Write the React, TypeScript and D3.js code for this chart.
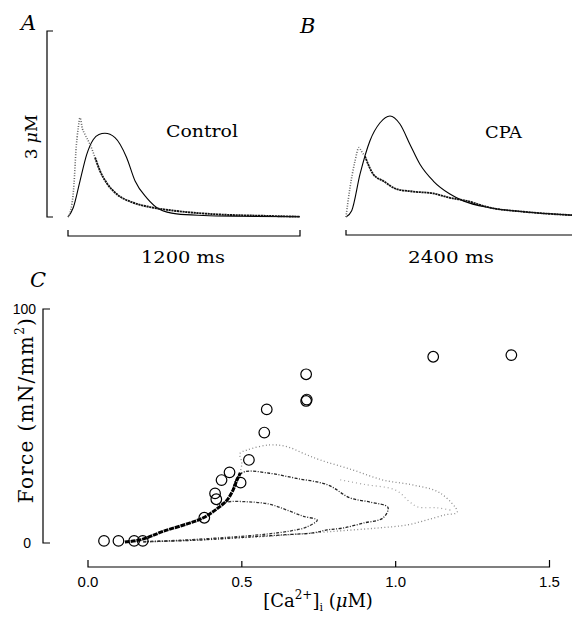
import React from "react";
import * as d3 from "d3";

// ---------- Panel A (Control) : time (ms) vs [Ca2+] (uM) / relative force ----------
const caA_t = [0, 10, 31, 41, 53, 62, 75, 88, 114, 140, 166, 200, 252, 338, 424, 562, 769, 1000, 1200];
const caA_v = [0, 0.06, 0.53, 1.06, 1.44, 1.6, 1.42, 1.33, 1.17, 0.96, 0.74, 0.55, 0.37, 0.23, 0.16, 0.097, 0.043, 0.02, 0.005];
const fA_t = [0, 27, 62, 97, 131, 160, 191, 243, 303, 347, 407, 476, 562, 700, 900, 1200];
const fA_v = [0, 0.15, 0.58, 1.01, 1.25, 1.33, 1.35, 1.28, 0.96, 0.58, 0.31, 0.12, 0.05, 0.025, 0.012, 0.005];

// ---------- Panel B (CPA) ----------
const caB_t = [0, 41, 93, 134, 160, 196, 282, 386, 524, 696, 903, 1075, 1248, 1489, 1834, 2337];
const caB_v = [0, 0.47, 0.9, 1.12, 1.06, 0.98, 0.69, 0.58, 0.45, 0.41, 0.38, 0.31, 0.26, 0.15, 0.085, 0.03];
const fB_t = [0, 59, 145, 248, 352, 455, 558, 662, 765, 903, 1075, 1213, 1489, 1834, 2337];
const fB_v = [0, 0.1, 0.69, 1.23, 1.52, 1.63, 1.5, 1.17, 0.85, 0.58, 0.37, 0.26, 0.15, 0.085, 0.03];

// ---------- Panel C : steady-state points (open circles) ----------
const ssCa = [0.052, 0.099, 0.15, 0.178, 0.378, 0.413, 0.417, 0.434, 0.46, 0.496, 0.523, 0.573, 0.581, 0.709, 0.711, 0.709, 1.122, 1.376];
const ssF = [0.9, 0.9, 0.9, 0.9, 10.8, 21.2, 18.7, 26.9, 30.2, 25.8, 35.5, 47.2, 57.1, 60.7, 61.3, 72.1, 79.6, 80.3];

// dense common rising trace
const bandCa = [0.12, 0.175, 0.245, 0.33, 0.375, 0.418, 0.451, 0.471, 0.483, 0.495];
const bandF = [0.4, 1.5, 5.0, 8.5, 10.8, 14.5, 18.2, 22.5, 26.5, 30];

// twitch loops (Ca, Force)
const innerCa = [0.18, 0.3, 0.45, 0.58, 0.66, 0.71, 0.745, 0.7, 0.646, 0.59, 0.52, 0.45, 0.42];
const innerF = [0.6, 1.2, 2.4, 3.8, 5.2, 6.8, 9.8, 11.4, 14.1, 16.6, 17.6, 17.5, 16];
const middleCa = [0.18, 0.35, 0.5, 0.65, 0.731, 0.777, 0.829, 0.894, 0.959, 0.975, 0.916, 0.851, 0.78, 0.678, 0.59, 0.51, 0.485, 0.47];
const middleF = [0.5, 1.2, 2.4, 3.6, 4.3, 5.6, 6.4, 8.5, 10.7, 15.2, 17.5, 19.3, 24.8, 27.6, 29.8, 30.5, 28, 23];
const outerCa = [0.18, 0.4, 0.6, 0.75, 0.85, 0.95, 1.036, 1.1, 1.16, 1.2, 1.144, 1.056, 0.959, 0.861, 0.754, 0.7, 0.646, 0.59, 0.516, 0.494, 0.5, 0.49];
const outerF = [0.4, 1.5, 3, 4.5, 5.5, 6.5, 7.7, 9.8, 12, 13.2, 21.4, 24.8, 26.9, 31.2, 35.5, 38.3, 41.2, 41.9, 39.7, 38.3, 34, 28];
const outer2Ca = [0.82, 0.9, 1.0, 1.046, 1.072, 1.137, 1.18];
const outer2F = [27, 25, 22.6, 17.5, 15.4, 15, 14];

const xTicks = [0, 0.5, 1.0, 1.5];
const xTickLabels = ["0.0", "0.5", "1.0", "1.5"];
const yTicks = [0, 100];
const yTickLabels = ["0", "100"];

const zip = (a: number[], b: number[]) => a.map((v, i) => [v, b[i]] as [number, number]);

export default function App() {
  const W = 572, H = 617;
  const serif = "'DejaVu Serif', serif";
  const sans = "'Liberation Sans', Arial, sans-serif";

  const yAB = d3.scaleLinear().domain([0, 3]).range([217, 31]);
  const xA = d3.scaleLinear().domain([0, 1200]).range([68, 300]);
  const xB = d3.scaleLinear().domain([0, 2400]).range([346, 578]);

  const lineA = d3.line<[number, number]>().x(d => xA(d[0])).y(d => yAB(d[1])).curve(d3.curveMonotoneX);
  const lineB = d3.line<[number, number]>().x(d => xB(d[0])).y(d => yAB(d[1])).curve(d3.curveMonotoneX);

  const xC = d3.scaleLinear().domain([0, 1.5]).range([88, 549.5]);
  const yC = d3.scaleLinear().domain([0, 100]).range([543, 309]);
  const lineC = d3.line<[number, number]>().x(d => xC(d[0])).y(d => yC(d[1])).curve(d3.curveCatmullRom.alpha(0.5));

  const caA = zip(caA_t, caA_v);
  const caB = zip(caB_t, caB_v);
  const peakIdxA = 9;
  const peakIdxB = 5;

  const axisY = 567;

  return (
    <svg width={W} height={H} style={{ position: "absolute", left: 0, top: 0, background: "#fff" }}>
      <rect x={0} y={0} width={W} height={H} fill="#fff" />
      {/* Panel letters */}
      <text x={21} y={30} fontFamily={serif} fontStyle="italic" fontSize={21}>A</text>
      <text x={300} y={33} fontFamily={serif} fontStyle="italic" fontSize={21}>B</text>
      <text x={30} y={287} fontFamily={serif} fontStyle="italic" fontSize={21}>C</text>

      {/* A: 3 uM bracket */}
      <path d={`M53,${yAB(3)}H47V${yAB(0)}H53`} fill="none" stroke="#000" strokeWidth={1.2} />
      <text transform={`translate(37,137) rotate(-90)`} textAnchor="middle" fontFamily={serif} fontSize={17}>
        3 <tspan fontStyle="italic">μ</tspan>M
      </text>

      {/* A traces */}
      <path d={lineA(zip(fA_t, fA_v)) || ""} fill="none" stroke="#000" strokeWidth={1.1} />
      <path d={lineA(caA.slice(0, peakIdxA + 1)) || ""} fill="none" stroke="#666" strokeWidth={1.6} strokeDasharray="1 1.6" />
      <path d={lineA(caA.slice(peakIdxA)) || ""} fill="none" stroke="#111" strokeWidth={1.9} strokeDasharray="2.2 0.6" />
      <text x={166} y={137} fontFamily={serif} fontSize={17} textLength={72} lengthAdjust="spacingAndGlyphs">Control</text>
      {/* A time bar */}
      <path d={`M${xA(0)},230V236H${xA(1200)}V230`} fill="none" stroke="#000" strokeWidth={1.2} />
      <text x={141} y={263} fontFamily={serif} fontSize={17} textLength={84} lengthAdjust="spacingAndGlyphs">1200 ms</text>

      {/* B traces */}
      <path d={lineB(zip(fB_t, fB_v)) || ""} fill="none" stroke="#000" strokeWidth={1.1} />
      <path d={lineB(caB.slice(0, peakIdxB + 1)) || ""} fill="none" stroke="#666" strokeWidth={1.6} strokeDasharray="1 1.6" />
      <path d={lineB(caB.slice(peakIdxB)) || ""} fill="none" stroke="#111" strokeWidth={1.8} strokeDasharray="2.2 0.6" />
      <text x={485} y={138} fontFamily={serif} fontSize={17} textLength={37} lengthAdjust="spacingAndGlyphs">CPA</text>
      <path d={`M${xB(0)},230V235H${xB(2400)}`} fill="none" stroke="#000" strokeWidth={1.2} />
      <text x={408} y={263} fontFamily={serif} fontSize={17} textLength={86} lengthAdjust="spacingAndGlyphs">2400 ms</text>

      {/* C axes */}
      <path d={`M50,${yC(100)}H43V${yC(0)}H50`} fill="none" stroke="#000" strokeWidth={1.2} />
      {yTicks.map((t, i) => (
        <text key={t} x={i === 0 ? 31 : 36} y={yC(t) + 5} textAnchor="end" fontFamily={sans} fontSize={14}>{yTickLabels[i]}</text>
      ))}
      <text transform={`translate(33,410) rotate(-90)`} textAnchor="middle" fontFamily={serif} fontSize={20} letterSpacing={1.3}>
        Force (mN/mm<tspan dy={-9} fontSize={12}>2</tspan><tspan dy={9}>)</tspan>
      </text>
      <path d={`M${xC(0)},560V${axisY}H${xC(1.5)}V560`} fill="none" stroke="#000" strokeWidth={1.2} />
      {xTicks.map((t, i) => (
        <g key={t}>
          {i > 0 && i < xTicks.length - 1 && (
            <line x1={xC(t)} x2={xC(t)} y1={axisY} y2={561} stroke="#000" strokeWidth={1.2} />
          )}
          <text x={xC(t)} y={587} textAnchor="middle" fontFamily={sans} fontSize={15}>{xTickLabels[i]}</text>
        </g>
      ))}
      <text x={318} y={607} textAnchor="middle" fontFamily={serif} fontSize={18}>
        [Ca<tspan dy={-8} fontSize={12}>2+</tspan><tspan dy={8}>]</tspan><tspan dy={4} fontSize={11}>i</tspan><tspan dy={-4}> (</tspan><tspan fontStyle="italic">μ</tspan>M)
      </text>

      {/* C loops */}
      <path d={lineC(zip(outerCa, outerF)) || ""} fill="none" stroke="#8a8a8a" strokeWidth={1.3} strokeDasharray="1 2.4" />
      <path d={lineC(zip(outer2Ca, outer2F)) || ""} fill="none" stroke="#a0a0a0" strokeWidth={1.2} strokeDasharray="1 3" />
      <path d={lineC(zip(middleCa, middleF)) || ""} fill="none" stroke="#222" strokeWidth={1.3} strokeDasharray="3 1.5 1 1.5" />
      <path d={lineC(zip(innerCa, innerF)) || ""} fill="none" stroke="#333" strokeWidth={1.3} strokeDasharray="3 1.5 1 1.5" />
      <path d={lineC(zip(bandCa, bandF)) || ""} fill="none" stroke="#000" strokeWidth={3} strokeDasharray="5 0.8" />

      {/* C steady-state circles */}
      {ssCa.map((c, i) => (
        <circle key={i} cx={xC(c)} cy={yC(ssF[i])} r={5.3} fill="none" stroke="#000" strokeWidth={1.2} />
      ))}
    </svg>
  );
}
